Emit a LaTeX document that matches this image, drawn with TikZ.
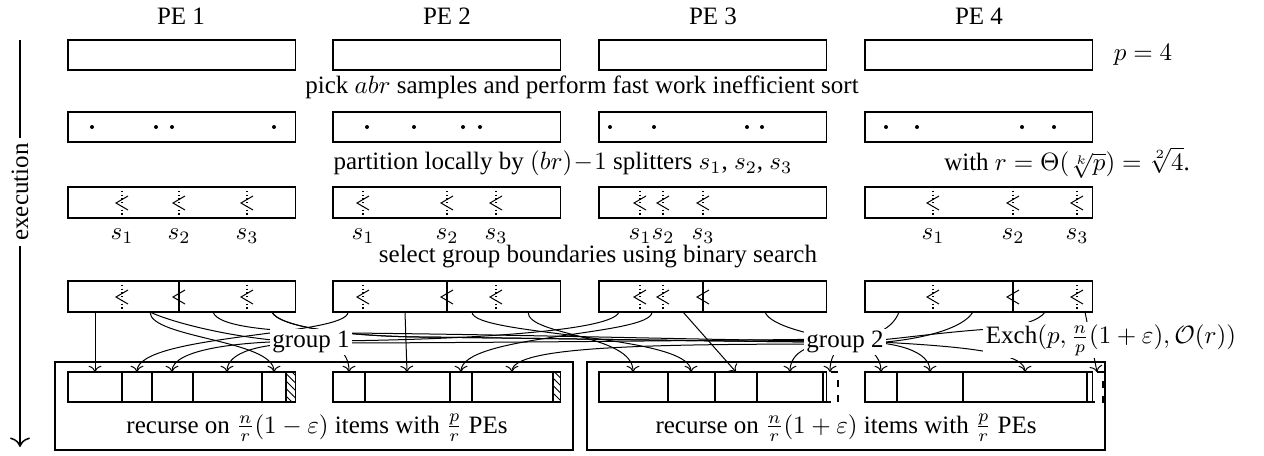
\documentclass[tikz,border=0pt]{standalone}
\usepackage{fontspec}
\setmainfont{Liberation Serif}
\usepackage{amsmath}
\usetikzlibrary{patterns,arrows.meta}
\begin{document}
\begin{tikzpicture}[x=0.4pt,y=0.4pt,
  box/.style={draw,line width=0.5pt},
  conn/.style={->,line width=0.4pt},
  glbl/.style={fill=white,inner sep=1pt},
  dotline/.style={densely dotted,line width=0.5pt},
  bnd/.style={line width=0.5pt},
]
\useasboundingbox (0,0) rectangle (1264,-455);
% PE labels
\foreach \i/\x in {1/181,2/447,3/713,4/979}{\node (pe\i) at (\x,-16) {PE \i};}
\node (p4) at (1143,-55) {$p=4$};
% boxes
\foreach \xa in {68,333,599,865}{
  \draw[box] (\xa,-40) rectangle ++(227.5,-30);
  \draw[box] (\xa,-112) rectangle ++(227.5,-30);
  \draw[box] (\xa,-187) rectangle ++(227.5,-31);
  \draw[box] (\xa,-281) rectangle ++(227.5,-31);
}
\node (t1) at (582,-87) {pick $abr$ samples and perform fast work inefficient sort};
% sample dots
\foreach \x in {92,156,172,274,367,414,463,480,610,654,747,762,886,917,1022,1054}{\fill (\x,-127) circle (2);}
\node (t2) at (563,-163) {partition locally by $(br)\!-\!1$ splitters $s_1$, $s_2$, $s_3$};
\node (t3) at (1067,-163) {with $r=\Theta(\sqrt[k]{p})=\sqrt[2]{4}$.};
% splitters row 3
\foreach \x/\k in {122/1,179/2,247/3,363/1,447/2,496/3,640/1,663/2,703/3,933/1,1013/2,1077/3}{
  \draw[dotline] (\x,-187) -- (\x,-218);
  \draw[line width=0.4pt] (\x+6,-196) -- (\x-6,-203) -- (\x+6,-210);
  \node (sl\x) at (\x,-236) {$s_\k$};
}
\node (t4) at (598,-257) {select group boundaries using binary search};
% splitters row 4
\foreach \x in {122,247,363,496,640,663,933,1077}{\draw[dotline] (\x,-281) -- (\x,-312);}
\foreach \x in {179,447,703,1013}{\draw[bnd] (\x,-281) -- (\x,-312);}
\foreach \x in {122,179,247,363,447,496,640,663,703,933,1013,1077}{
  \draw[line width=0.4pt] (\x+6,-290) -- (\x-6,-297) -- (\x+6,-304);}
% bottom outer boxes
\draw[box] (55,-362) rectangle (573,-450);
\draw[box] (587,-362) rectangle (1105,-450);
% row 5
\fill[pattern=north west lines] (286,-372) rectangle (295.5,-402);
\fill[pattern=north west lines] (553,-372) rectangle (560.5,-402);
\draw[box,dashed] (823,-372) rectangle (838,-402);
\draw[box,dashed] (1087,-372) rectangle (1103,-402);
\foreach \xa in {68,333,599,865}{\draw[box] (\xa,-372) rectangle ++(227.5,-30);}
\foreach \x in {122,152,193,262,286,365,450,472,553,668,715,757,823,897,963,1087}{\draw[bnd] (\x,-372) -- (\x,-402);}
\node (r1) at (317,-428) {recurse on $\frac{n}{r}(1-\varepsilon)$ items with $\frac{p}{r}$ PEs};
\node (r2) at (846,-428) {recurse on $\frac{n}{r}(1+\varepsilon)$ items with $\frac{p}{r}$ PEs};
% label positions
\coordinate (g1c) at (311,-342);
\coordinate (g2c) at (845,-342);
\coordinate (exc) at (1111,-340);
% source and destination points
\foreach \x in {95,150,213,272,348,405,472,528,619,652,683,765,899,973,1045,1085}{\coordinate (s\x) at (\x,-312);}
\foreach \x in {95,137,172,227,274,349,407,461,512,633,691,736,790,830,881,930,1025,1097}{\coordinate (d\x) at (\x,-372);}
% direct connectors
\draw[conn] (s95) -- (d95);
\draw[conn] (s405) -- (d407);
\draw[conn] (s683) -- (d736);
\draw[conn] (s1085) -- (d1097);
\draw[conn] (s150) .. controls (150,-338) and (274,-340) .. (d274);
\draw[conn] (s348) .. controls (348,-336) and (137,-334) .. (d137);
\draw[conn] (s652) .. controls (652,-336) and (461,-334) .. (d461);
\draw[conn] (s472) .. controls (472,-336) and (691,-334) .. (d691);
\draw[conn] (s528) .. controls (528,-336) and (633,-334) .. (d633);
% connectors through group 1
\draw[conn] (s150) .. controls (175,-324) and (250,-342) .. (g1c) .. controls (335,-342) and (349,-352) .. (d349);
\draw[conn] (s619) .. controls (612,-334) and (420,-341) .. (311,-341) .. controls (235,-341) and (172,-350) .. (d172);
\draw[conn] (s899) .. controls (893,-328) and (875,-338) .. (845,-339) .. controls (650,-341) and (450,-343) .. (311,-343) .. controls (260,-343) and (227,-352) .. (d227);
% connectors through group 2
\draw[conn] (s973) .. controls (960,-333) and (900,-344) .. (845,-344) .. controls (650,-344) and (512,-346) .. (d512);
\draw[conn] (s213) .. controls (218,-328) and (280,-332) .. (350,-333) .. controls (550,-335) and (750,-341) .. (845,-341) .. controls (900,-341) and (930,-352) .. (d930);
\draw[conn] (s272) .. controls (278,-326) and (340,-336) .. (420,-337) .. controls (600,-339) and (760,-342) .. (g2c) .. controls (835,-350) and (830,-358) .. (d830);
\draw[conn] (s272) .. controls (278,-326) and (340,-336) .. (420,-337) .. controls (600,-339) and (760,-342) .. (g2c) .. controls (870,-346) and (881,-356) .. (d881);
\draw[conn] (s765) .. controls (770,-326) and (815,-336) .. (845,-340) .. controls (930,-345) and (1025,-348) .. (d1025);
\draw[conn] (s1045) .. controls (1040,-320) and (1020,-327) .. (990,-329) .. controls (930,-333) and (880,-342) .. (g2c) .. controls (810,-342) and (790,-352) .. (d790);
% labels on top
\node[glbl] (g1) at (g1c) {group 1};
\node[glbl] (g2) at (g2c) {group 2};
\node[glbl] (ex) at (exc) {Exch$(p,\frac{n}{p}(1+\varepsilon),\mathcal{O}(r))$};
% execution axis
\draw[-{To[scale=1.3]},line width=0.6pt] (20,-40) -- (20,-447);
\node[fill=white,rotate=90,inner sep=2pt] (exe) at (20,-192) {execution};
\end{tikzpicture}
\end{document}
